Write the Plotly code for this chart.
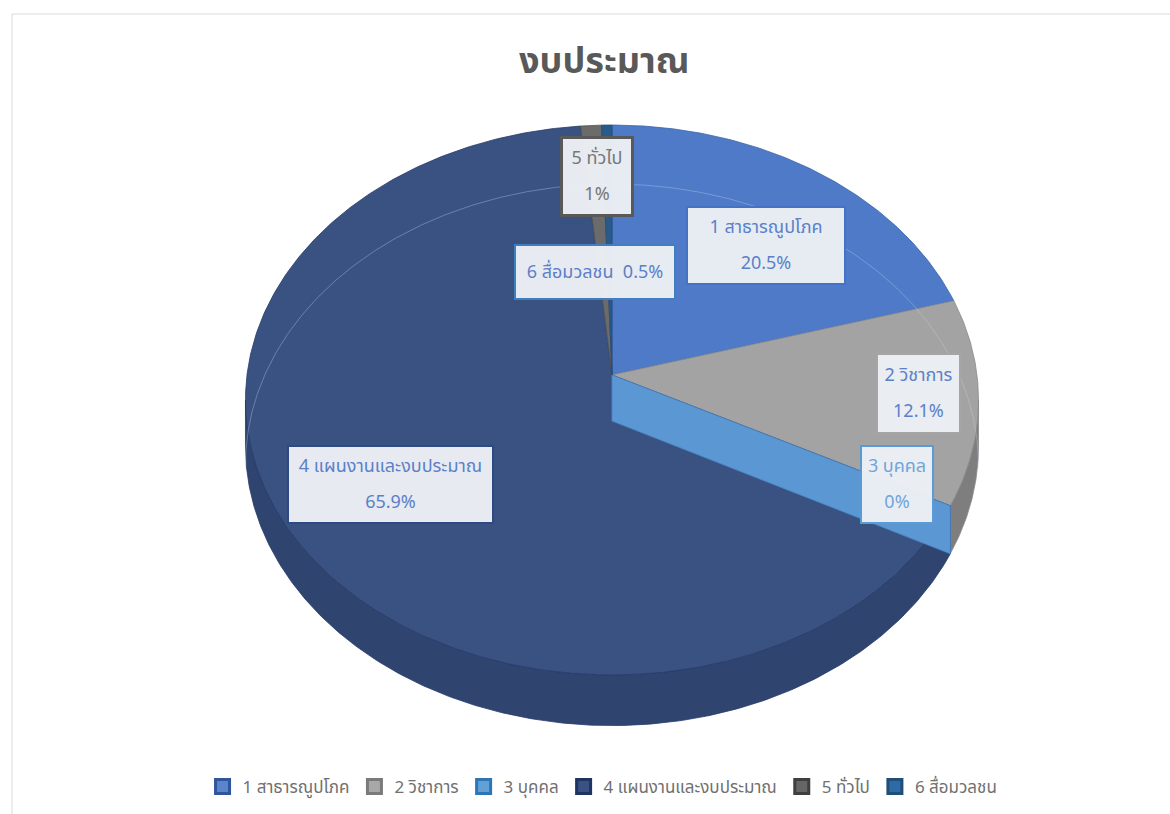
import math
import plotly.graph_objects as go

# ---------------- data ----------------
categories = ["1 สาธารณูปโภค", "2 วิชาการ", "3 บุคคล", "4 แผนงานและงบประมาณ", "5 ทั่วไป", "6 สื่อมวลชน"]
values = [20.5, 12.1, 0.0, 65.9, 1.0, 0.5]
pct_labels = ["20.5%", "12.1%", "0%", "65.9%", "1%", "0.5%"]
title_text = "งบประมาณ"

# ---------------- style ----------------
FONT = "Tahoma, 'Noto Sans Thai', 'Leelawadee UI', 'DejaVu Sans', sans-serif"
top_colors = ["#4E7AC7", "#A3A3A3", "#5B97D2", "#3A5282", "#6B6B6B", "#2A5A8C"]
side_colors = ["#3F66AA", "#7E7E7E", "#4A82BD", "#2F4570", "#555555", "#224B75"]
edge_colors = ["#3C64A8", "#8A8A8A", "#4A86C4", "#24396A", "#505050", "#1F4A78"]
legend_fill = ["#5B84CC", "#A8A8A8", "#62A0D8", "#3A5283", "#666666", "#2E6BA6"]
legend_edge = ["#2F559A", "#7A7A7A", "#2E75B6", "#1F3460", "#3F3F3F", "#1F4E79"]
label_text_colors = ["#5B80C8", "#5B80C8", "#72A4DA", "#5B80C8", "#777777", "#5B80C8"]
label_border_colors = ["#4472C4", "#A5A5A5", "#5B9BD5", "#2E4A82", "#595959", "#3F7EC0"]
# label boxes: centre x, centre y, width, height (pixels)
label_boxes = [(766, 245, 160, 79), (918, 393, 85, 81), (897, 484, 74, 79),
               (390, 484, 207, 79), (597, 176, 72, 79), (595, 272, 162, 56)]

# projection of the (perspective) pie
CX, CY = 612.0, 375.0
A, B, K, D = 365.0, 272.7, 0.0909, 46.0


def proj(theta, level=0.0):
    t = math.radians(theta)
    u, v = math.sin(t), -math.cos(t)
    den = 1.0 - K * v
    return CX + A * u / den, CY + (B * v + level * D) / den


def arc(a0, a1, level=0.0):
    n = max(2, int(abs(a1 - a0) / 0.5) + 2)
    pts = [proj(a0 + (a1 - a0) * i / (n - 1), level) for i in range(n)]
    return [p[0] for p in pts], [p[1] for p in pts]


total = sum(values)
bounds = []
acc = 0.0
for v in values:
    a0 = acc / total * 360.0
    acc += v
    bounds.append((a0, acc / total * 360.0))

sil = math.degrees(math.acos(-K))          # visible outer wall from sil .. 360-sil

fig = go.Figure()

# outer side walls
for i, (a0, a1) in enumerate(bounds):
    s0, s1 = max(a0, sil), min(a1, 360 - sil)
    if s1 <= s0:
        continue
    xt, yt = arc(s0, s1, 0)
    xb, yb = arc(s0, s1, 1)
    fig.add_trace(go.Scatter(x=xt + xb[::-1] + [xt[0]], y=yt + yb[::-1] + [yt[0]],
                             mode="lines", fill="toself", fillcolor=side_colors[i],
                             line=dict(color=edge_colors[i], width=0.8),
                             hoverinfo="skip", showlegend=False))

# top faces
for i, (a0, a1) in enumerate(bounds):
    if a1 - a0 <= 0:
        continue
    xa, ya = arc(a0, a1, 0)
    fig.add_trace(go.Scatter(x=[CX] + xa + [CX], y=[CY] + ya + [CY],
                             mode="lines", fill="toself", fillcolor=top_colors[i],
                             line=dict(color=edge_colors[i], width=0.8),
                             hoverinfo="skip", showlegend=False))

# faint far rim (bevel) seen on the top face
xr, yr = arc(-96, 96, 1.4)
fig.add_trace(go.Scatter(x=xr, y=yr, mode="lines",
                         line=dict(color="rgba(200,212,238,0.35)", width=1),
                         hoverinfo="skip", showlegend=False))

# radial wall of zero-size slices
for i, (a0, a1) in enumerate(bounds):
    if a1 - a0 > 0:
        continue
    x1, y1 = proj(a0, 0)
    x2, y2 = proj(a0, 1)
    cxb, cyb = CX, CY + D
    fig.add_trace(go.Scatter(x=[CX, x1, x2, cxb, CX], y=[CY, y1, y2, cyb, CY],
                             mode="lines", fill="toself", fillcolor=top_colors[i],
                             line=dict(color=edge_colors[i], width=0.8),
                             hoverinfo="skip", showlegend=False))

# legend entries
for i, name in enumerate(categories):
    fig.add_trace(go.Scatter(x=[None], y=[None], mode="markers", name=name,
                             marker=dict(symbol="square", size=14, color=legend_fill[i],
                                         line=dict(color=legend_edge[i], width=3))))

# data labels
for i, (bx, by, bw, bh) in enumerate(label_boxes):
    sp = "<span style='font-size:18px'>{}</span>"
    if bh < 70:
        txt = sp.format(f"{categories[i]}  {pct_labels[i]}")
    else:
        txt = sp.format(categories[i]) + "<br><br>" + sp.format(pct_labels[i])
    fig.add_annotation(x=bx, y=by, xref="x", yref="y", text=txt, showarrow=False,
                       width=bw - 4, height=bh - 4, align="center", valign="middle",
                       bgcolor="rgba(236,239,245,0.97)", bordercolor=label_border_colors[i],
                       borderwidth=2 if i != 4 else 3, borderpad=0,
                       font=dict(family=FONT, size=14, color=label_text_colors[i]))

# title
fig.add_annotation(x=604, y=62, xref="x", yref="y", text=f"<b>{title_text}</b>",
                   showarrow=False, font=dict(family=FONT, size=36, color="#595959"))

# chart-area border
fig.add_shape(type="rect", xref="x", yref="y", x0=12, y0=14, x1=1190, y1=840,
              line=dict(color="#D9D9D9", width=1), fillcolor="rgba(0,0,0,0)", layer="below")

fig.update_layout(
    width=1170, height=814,
    margin=dict(l=0, r=0, t=0, b=0),
    paper_bgcolor="white", plot_bgcolor="white",
    xaxis=dict(range=[0, 1170], visible=False, fixedrange=True),
    yaxis=dict(range=[814, 0], visible=False, fixedrange=True),
    showlegend=True,
    legend=dict(orientation="h", x=0.515, xanchor="center", y=1 - 787 / 814, yanchor="middle",
                font=dict(family=FONT, size=17, color="#707070"),
                itemwidth=30, tracegroupgap=0, bgcolor="rgba(0,0,0,0)"),
)

fig.write_html("out.html")
